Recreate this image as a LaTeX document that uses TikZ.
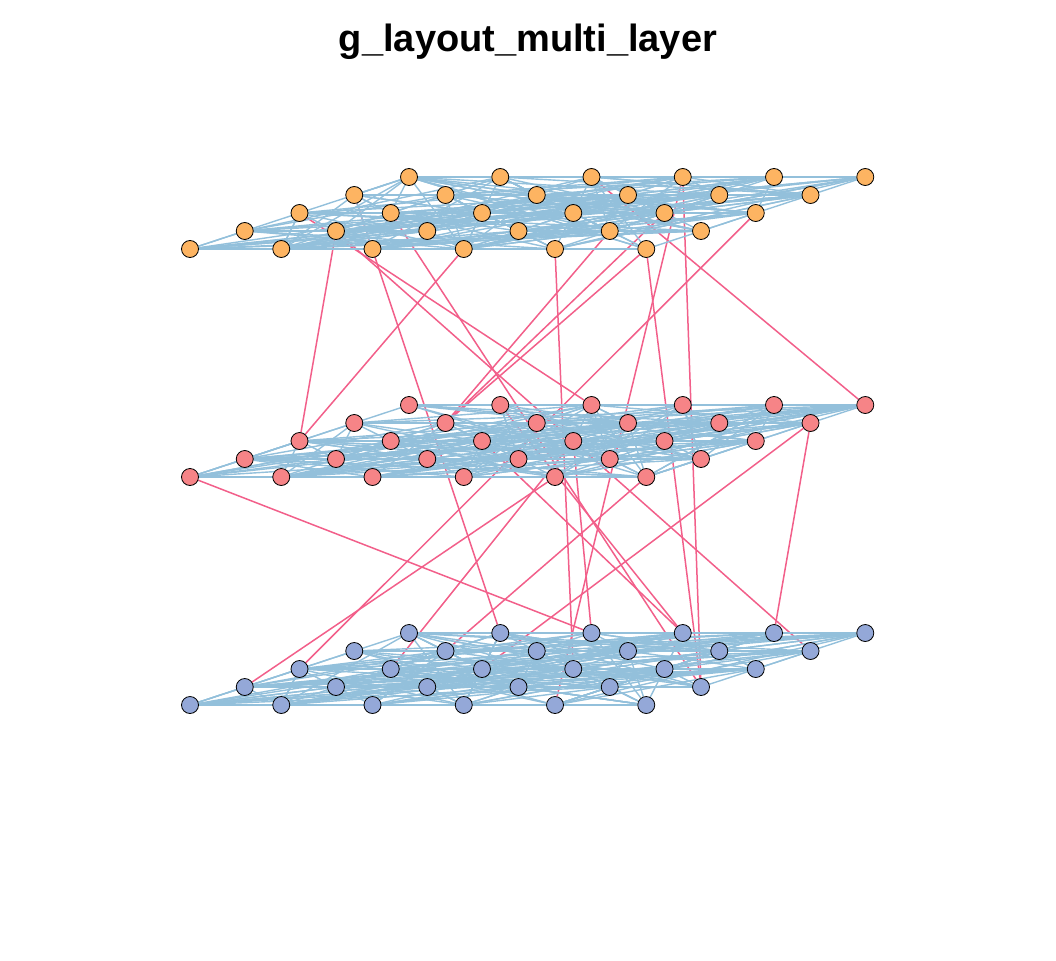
\documentclass[tikz,border=0pt]{standalone}
\usepackage{fontspec}
\setmainfont{Liberation Sans}
\definecolor{toplayer}{RGB}{253,180,98}
\definecolor{midlayer}{RGB}{246,132,135}
\definecolor{botlayer}{RGB}{148,168,216}
\definecolor{intraedge}{RGB}{147,192,219}
\definecolor{interedge}{RGB}{242,95,138}
\pgfdeclarelayer{background}
\pgfsetlayers{background,main}
\tikzset{
	vert/.style={circle, draw=black, line width=0.8pt, minimum size=17pt, inner sep=0pt},
	intra/.style={intraedge, line width=1.4pt},
	inter/.style={interedge, line width=1.5pt}
}
\begin{document}
\begin{tikzpicture}[x=1pt, y=-1pt]
	\useasboundingbox (0, 0) rectangle (1056, 960);
	\node[font=\bfseries\fontsize{38}{46}\selectfont] (title) at (528, 42) {g\_layout\_multi\_layer};
	\foreach \lay/\base/\col in {top/177/toplayer, mid/405/midlayer, bot/633/botlayer}
		\foreach \r in {1,...,5}
			\foreach \c in {1,...,6}
				\node[vert, fill=\col] (\lay-\r-\c) at ({409+(\c-1)*91.25-(\r-1)*54.75}, {\base+(\r-1)*18}) {};
	\begin{pgfonlayer}{background}
		\foreach \a/\b in {top-2-1/bot-1-2, top-4-2/mid-3-1, top-3-1/mid-1-3, top-4-2/bot-2-6,
				top-3-2/bot-4-6, top-5-4/mid-3-1, top-5-5/bot-3-4, top-4-5/mid-2-2,
				top-3-5/mid-2-2, top-5-6/mid-2-2, top-1-3/mid-1-6, top-1-4/bot-5-5,
				top-1-4/bot-4-6, top-5-6/bot-4-6, top-3-6/bot-3-1, mid-3-4/bot-1-3,
				mid-3-4/bot-3-2, mid-5-1/bot-1-3, mid-5-5/bot-4-1, mid-3-3/bot-1-4,
				mid-2-6/bot-1-5, mid-2-6/bot-3-3, mid-5-6/bot-2-2, mid-1-2/bot-1-4}
			\draw[inter] (\a) -- (\b);
		\pgfmathsetseed{42}
		\foreach \lay in {top, mid, bot}
			\foreach \k in {1,...,210} {
				\pgfmathrandominteger{\ra}{1}{5}
				\pgfmathrandominteger{\ca}{1}{6}
				\pgfmathrandominteger{\rb}{1}{5}
				\pgfmathrandominteger{\cb}{1}{6}
				\pgfmathtruncatemacro{\same}{and(\ra==\rb, \ca==\cb)}
				\ifnum\same=0
					\draw[intra] (\lay-\ra-\ca) -- (\lay-\rb-\cb);
				\fi
			}
	\end{pgfonlayer}
\end{tikzpicture}
\end{document}
